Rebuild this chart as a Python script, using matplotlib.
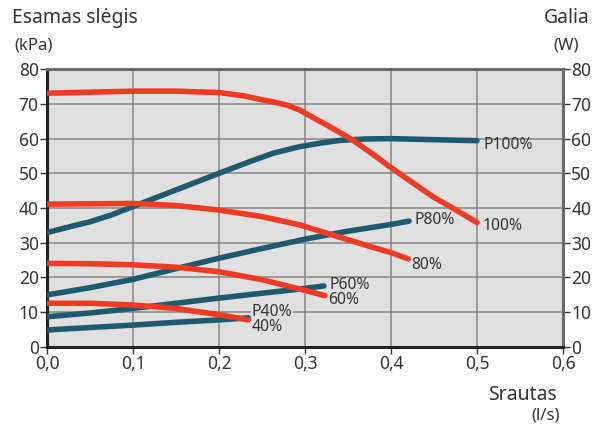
# Pump curves: available pressure (red) and power (teal) vs flow

import matplotlib
matplotlib.use("Agg")
import matplotlib.pyplot as plt

# pressure curves (kPa)
p100_x = [0.0, 0.05, 0.1, 0.15, 0.2, 0.23, 0.25, 0.263, 0.28, 0.294, 0.31, 0.332, 0.356, 0.38, 0.399, 0.425, 0.449, 0.475, 0.5]
p100_y = [73.1, 73.4, 73.7, 73.7, 73.3, 72.3, 71.2, 70.6, 69.6, 68.2, 66.0, 63.0, 59.5, 55.3, 51.8, 47.3, 43.2, 39.5, 35.8]
p80_x = [0.0, 0.05, 0.1, 0.15, 0.2, 0.25, 0.294, 0.332, 0.37, 0.399, 0.42]
p80_y = [41.1, 41.2, 41.3, 40.7, 39.4, 37.5, 35.1, 32.2, 29.3, 27.2, 25.3]
p60_x = [0.0, 0.05, 0.1, 0.15, 0.2, 0.25, 0.294, 0.323]
p60_y = [24.0, 23.9, 23.6, 22.9, 21.6, 19.3, 16.6, 14.7]
p40_x = [0.0, 0.05, 0.1, 0.15, 0.2, 0.234]
p40_y = [12.5, 12.5, 12.0, 11.0, 9.2, 7.7]

# power curves (W)
w100_x = [0.0, 0.03, 0.05, 0.075, 0.1, 0.15, 0.2, 0.235, 0.263, 0.294, 0.32, 0.341, 0.37, 0.399, 0.45, 0.5]
w100_y = [32.9, 34.8, 36.0, 38.0, 40.4, 45.2, 50.0, 53.3, 55.8, 57.7, 58.8, 59.5, 59.9, 60.0, 59.7, 59.4]
w80_x = [0.0, 0.05, 0.1, 0.15, 0.2, 0.25, 0.3, 0.35, 0.399, 0.421]
w80_y = [14.9, 17.0, 19.4, 22.5, 25.5, 28.3, 31.0, 33.3, 35.2, 36.2]
w60_x = [0.0, 0.05, 0.1, 0.15, 0.2, 0.25, 0.294, 0.322]
w60_y = [8.6, 9.7, 11.0, 12.5, 14.0, 15.4, 16.6, 17.5]
w40_x = [0.0, 0.05, 0.1, 0.15, 0.2, 0.234]
w40_y = [4.8, 5.5, 6.2, 7.0, 7.7, 8.3]

x_ticks = [0.0, 0.1, 0.2, 0.3, 0.4, 0.5, 0.6]
x_ticklabels = ["0,0", "0,1", "0,2", "0,3", "0,4", "0,5", "0,6"]
y_ticks = [0, 10, 20, 30, 40, 50, 60, 70, 80]

red = "#ef3b23"
teal = "#1e5a6d"
txt = "#333333"
plt.rcParams["font.family"] = ["Noto Sans", "DejaVu Sans"]

fig = plt.figure(figsize=(5.96, 4.26), dpi=100)
ax = fig.add_axes([0.0789, 0.1864, 0.8657, 0.6509])
ax.set_facecolor("#e0e0e0")

line_kw = dict(linewidth=4, solid_capstyle="round", solid_joinstyle="round", zorder=3)
ax.plot(w100_x, w100_y, color=teal, **line_kw)
ax.plot(w80_x, w80_y, color=teal, **line_kw)
ax.plot(w60_x, w60_y, color=teal, **line_kw)
ax.plot(w40_x, w40_y, color=teal, **line_kw)
ax.plot(p100_x, p100_y, color=red, **line_kw)
ax.plot(p80_x, p80_y, color=red, **line_kw)
ax.plot(p60_x, p60_y, color=red, **line_kw)
ax.plot(p40_x, p40_y, color=red, **line_kw)

# curve labels
lab_kw = dict(fontsize=11.3, color=txt, va="center", ha="left", zorder=4)
ax.text(w100_x[-1] + 0.008, w100_y[-1] - 1.2, "P100%", **lab_kw)
ax.text(p100_x[-1] + 0.006, p100_y[-1] - 1.0, "100%", **lab_kw)
ax.text(w80_x[-1] + 0.006, w80_y[-1] + 0.3, "P80%", **lab_kw)
ax.text(p80_x[-1] + 0.003, p80_y[-1] - 1.8, "80%", **lab_kw)
ax.text(w60_x[-1] + 0.006, w60_y[-1] + 0.2, "P60%", **lab_kw)
ax.text(p60_x[-1] + 0.004, p60_y[-1] - 1.2, "60%", **lab_kw)
ax.text(w40_x[-1] + 0.004, w40_y[-1] + 1.6, "P40%",
        bbox=dict(facecolor="#e0e0e0", edgecolor="none", pad=0.3), **lab_kw)
ax.text(w40_x[-1] + 0.004, w40_y[-1] - 2.7, "40%", **lab_kw)

ax.set_xlim(0, 0.6)
ax.set_ylim(0, 80)
ax.set_xticks(x_ticks)
ax.set_xticklabels(x_ticklabels)
ax.set_yticks(y_ticks)
ax.grid(True, color="#858585", linewidth=1.1, zorder=1)
ax.set_axisbelow(True)
ax.tick_params(axis="both", labelsize=12.5, colors=txt, length=5, width=1, direction="out", pad=1)
ax.tick_params(axis="y", which="both", right=True, labelright=True, labelleft=True)
for lab in ax.get_xticklabels() + ax.get_yticklabels():
    lab.set_color(txt)

ax.spines["left"].set_color("#222222")
ax.spines["bottom"].set_color("#222222")
ax.spines["left"].set_linewidth(2.2)
ax.spines["bottom"].set_linewidth(2.2)
ax.spines["top"].set_color("#6a6a6a")
ax.spines["right"].set_color("#6a6a6a")
ax.spines["top"].set_linewidth(2.2)
ax.spines["right"].set_linewidth(2.2)

# axis titles
fig.text(12 / 596, 1 - 18 / 426, "Esamas slėgis", fontsize=14, color=txt, va="center", ha="left")
fig.text(14 / 596, 1 - 45 / 426, "(kPa)", fontsize=12, color=txt, va="center", ha="left")
fig.text(590 / 596, 1 - 18 / 426, "Galia", fontsize=14, color=txt, va="center", ha="right")
fig.text(579 / 596, 1 - 45 / 426, "(W)", fontsize=12, color=txt, va="center", ha="right")
fig.text(557 / 596, 1 - 395 / 426, "Srautas", fontsize=14, color=txt, va="center", ha="right")
fig.text(560 / 596, 1 - 416 / 426, "(l/s)", fontsize=12, color=txt, va="center", ha="right")

fig.savefig("out.png", dpi=100)
